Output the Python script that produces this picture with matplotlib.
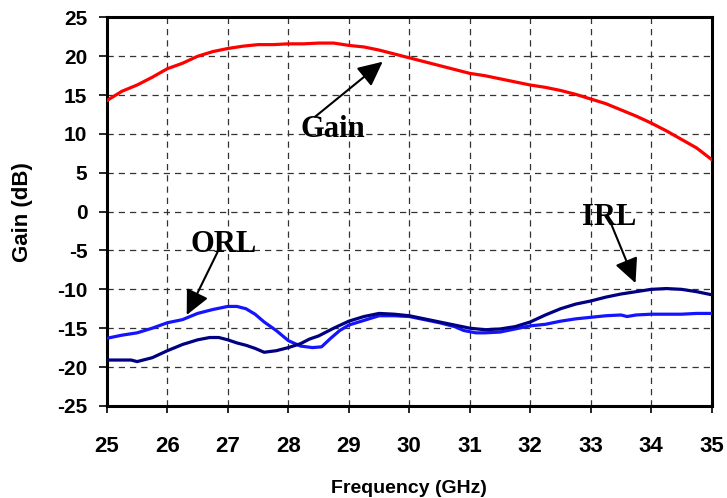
import matplotlib.pyplot as plt

plt.rcParams['axes.unicode_minus'] = False

# frequency sweep points (GHz) and measured responses (dB)
gain_f = [25, 25.25, 25.5, 25.75, 26, 26.25, 26.5, 26.75, 27, 27.25, 27.5, 27.75, 28, 28.25,
          28.5, 28.75, 29, 29.25, 29.5, 29.75, 30, 30.25, 30.5, 30.75, 31, 31.25, 31.5, 31.75,
          32, 32.25, 32.5, 32.75, 33, 33.25, 33.5, 33.75, 34, 34.25, 34.5, 34.75, 35]
gain_db = [14.3, 15.5, 16.3, 17.3, 18.4, 19.1, 20.0, 20.6, 21.0, 21.3, 21.5, 21.5, 21.6, 21.6,
           21.7, 21.7, 21.4, 21.2, 20.8, 20.3, 19.8, 19.3, 18.8, 18.3, 17.8, 17.5, 17.1, 16.7,
           16.3, 16.0, 15.6, 15.1, 14.5, 13.9, 13.1, 12.3, 11.4, 10.4, 9.3, 8.2, 6.7]

orl_f = [25, 25.25, 25.5, 25.75, 26, 26.25, 26.5, 26.75, 27, 27.15, 27.3, 27.45, 27.6, 27.8,
         28, 28.2, 28.4, 28.55, 28.7, 28.85, 29, 29.25, 29.5, 29.75, 30, 30.25, 30.5, 30.75,
         30.9, 31.1, 31.25, 31.5, 31.75, 32, 32.25, 32.5, 32.75, 33, 33.25, 33.5, 33.6, 33.75,
         34, 34.25, 34.5, 34.75, 35]
orl_db = [-16.3, -15.9, -15.6, -15.0, -14.3, -13.9, -13.1, -12.6, -12.2, -12.2, -12.5, -13.2,
          -14.2, -15.3, -16.6, -17.3, -17.5, -17.4, -16.3, -15.3, -14.6, -14.0, -13.4, -13.4,
          -13.5, -13.9, -14.3, -14.8, -15.3, -15.6, -15.6, -15.5, -15.1, -14.7, -14.5, -14.1,
          -13.8, -13.6, -13.4, -13.3, -13.5, -13.3, -13.2, -13.2, -13.2, -13.1, -13.1]

irl_f = [25, 25.2, 25.4, 25.5, 25.75, 26, 26.25, 26.5, 26.7, 26.85, 27, 27.15, 27.3, 27.45,
         27.6, 27.8, 28, 28.2, 28.35, 28.5, 28.75, 29, 29.25, 29.5, 29.75, 30, 30.25, 30.5,
         30.75, 31, 31.25, 31.5, 31.75, 32, 32.25, 32.5, 32.75, 33, 33.25, 33.5, 33.75, 34,
         34.25, 34.5, 34.75, 35]
irl_db = [-19.1, -19.1, -19.1, -19.3, -18.8, -17.9, -17.1, -16.5, -16.2, -16.2, -16.5, -16.9,
          -17.2, -17.6, -18.1, -17.9, -17.5, -17.0, -16.4, -16.0, -15.0, -14.1, -13.5, -13.1,
          -13.2, -13.4, -13.8, -14.2, -14.6, -15.0, -15.2, -15.1, -14.8, -14.2, -13.3, -12.5,
          -11.9, -11.5, -11.0, -10.6, -10.3, -10.0, -9.9, -10.0, -10.3, -10.7]

x_ticks = list(range(25, 36))
y_ticks = list(range(-25, 26, 5))

fig = plt.figure(figsize=(7.27, 4.98), dpi=100)
ax = fig.add_axes([0.147, 0.185, 0.832, 0.78])

ax.plot(gain_f, gain_db, color='#ff0000', lw=2.3, zorder=3)
ax.plot(orl_f, orl_db, color='#1414ff', lw=2.3, zorder=3)
ax.plot(irl_f, irl_db, color='#000080', lw=2.3, zorder=4)

ax.set_xlim(25, 35)
ax.set_ylim(-25, 25)
ax.set_xticks(x_ticks)
ax.set_yticks(y_ticks)
ax.grid(True, color='#333333', ls=(0, (5, 4)), lw=0.9)
ax.tick_params(axis='x', direction='out', length=5, width=1.2, labelsize=16, pad=17)
ax.tick_params(axis='y', direction='out', length=6, width=1.2, labelsize=15, pad=8)
for lab in ax.get_xticklabels() + ax.get_yticklabels():
    lab.set_fontweight('bold')
    lab.set_family('Liberation Sans')
for s in ax.spines.values():
    s.set_linewidth(2.2)

ax.set_xlabel('Frequency (GHz)', fontsize=14, fontweight='bold', family='Liberation Sans')
ax.set_ylabel('Gain (dB)', fontsize=16, fontweight='bold', family='Liberation Sans')
ax.xaxis.set_label_coords(0.5, -0.19)
ax.yaxis.set_label_coords(-0.122, 0.5)

arrow = dict(arrowstyle='-|>,head_length=0.75,head_width=0.36', color='black', lw=1.5,
             mutation_scale=20, shrinkA=0, shrinkB=0)
txt = dict(fontsize=22, fontweight='bold', family='Liberation Serif', ha='center', va='center')

ax.annotate('', xy=(29.56, 19.3), xytext=(28.44, 12.2), arrowprops=arrow, zorder=5)
ax.text(28.74, 10.6, 'Gain', **txt, zorder=6)

ax.annotate('', xy=(26.32, -13.3), xytext=(26.83, -5.2), arrowprops=arrow, zorder=5)
ax.text(26.93, -4.2, 'ORL', **txt, zorder=6)

ax.annotate('', xy=(33.74, -9.2), xytext=(33.28, -0.5), arrowprops=arrow, zorder=5)
ax.text(33.31, -0.8, 'IRL', **txt, zorder=4)

fig.savefig('out.png', dpi=100)
